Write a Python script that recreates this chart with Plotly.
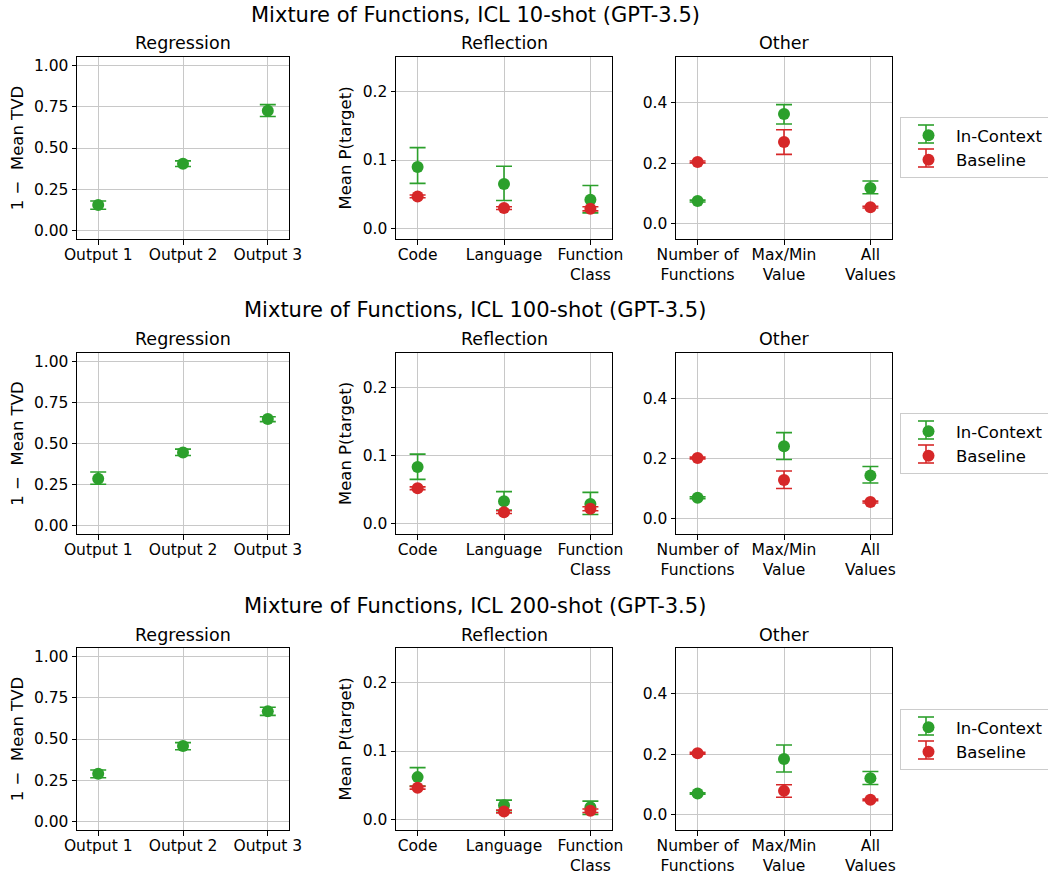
import plotly.graph_objects as go

# ---------------- data ----------------
row_titles = ["Mixture of Functions, ICL 10-shot (GPT-3.5)",
              "Mixture of Functions, ICL 100-shot (GPT-3.5)",
              "Mixture of Functions, ICL 200-shot (GPT-3.5)"]
panel_titles = ["Regression", "Reflection", "Other"]
series_names = ["In-Context", "Baseline"]

reg_cats = ["Output 1", "Output 2", "Output 3"]
refl_cats = ["Code", "Language", "Function<br>Class"]
oth_cats = ["Number of<br>Functions", "Max/Min<br>Value", "All<br>Values"]

# 10-shot
reg_ic_10 = [0.155, 0.405, 0.725]
reg_ic_10_lo = [0.130, 0.388, 0.690]
reg_ic_10_hi = [0.180, 0.422, 0.762]
refl_ic_10 = [0.090, 0.065, 0.042]
refl_ic_10_lo = [0.066, 0.041, 0.023]
refl_ic_10_hi = [0.118, 0.091, 0.063]
refl_bl_10 = [0.047, 0.030, 0.029]
refl_bl_10_lo = [0.045, 0.028, 0.026]
refl_bl_10_hi = [0.049, 0.032, 0.032]
oth_ic_10 = [0.075, 0.362, 0.118]
oth_ic_10_lo = [0.072, 0.329, 0.099]
oth_ic_10_hi = [0.078, 0.393, 0.141]
oth_bl_10 = [0.204, 0.270, 0.055]
oth_bl_10_lo = [0.201, 0.229, 0.052]
oth_bl_10_hi = [0.207, 0.310, 0.058]

# 100-shot
reg_ic_100 = [0.286, 0.446, 0.649]
reg_ic_100_lo = [0.252, 0.427, 0.633]
reg_ic_100_hi = [0.327, 0.466, 0.663]
refl_ic_100 = [0.083, 0.033, 0.029]
refl_ic_100_lo = [0.065, 0.020, 0.0135]
refl_ic_100_hi = [0.102, 0.047, 0.046]
refl_bl_100 = [0.052, 0.017, 0.022]
refl_bl_100_lo = [0.050, 0.015, 0.019]
refl_bl_100_hi = [0.054, 0.019, 0.025]
oth_ic_100 = [0.070, 0.241, 0.144]
oth_ic_100_lo = [0.067, 0.197, 0.119]
oth_ic_100_hi = [0.073, 0.286, 0.174]
oth_bl_100 = [0.202, 0.129, 0.056]
oth_bl_100_lo = [0.199, 0.101, 0.053]
oth_bl_100_hi = [0.205, 0.159, 0.059]

# 200-shot
reg_ic_200 = [0.290, 0.458, 0.667]
reg_ic_200_lo = [0.266, 0.435, 0.643]
reg_ic_200_hi = [0.3125, 0.478, 0.692]
refl_ic_200 = [0.062, 0.021, 0.018]
refl_ic_200_lo = [0.049, 0.013, 0.0077]
refl_ic_200_hi = [0.0758, 0.0285, 0.027]
refl_bl_200 = [0.0464, 0.012, 0.013]
refl_bl_200_lo = [0.0445, 0.010, 0.0105]
refl_bl_200_hi = [0.0485, 0.014, 0.0155]
oth_ic_200 = [0.0705, 0.184, 0.121]
oth_ic_200_lo = [0.068, 0.141, 0.100]
oth_ic_200_hi = [0.073, 0.230, 0.143]
oth_bl_200 = [0.203, 0.079, 0.0496]
oth_bl_200_lo = [0.200, 0.058, 0.047]
oth_bl_200_hi = [0.206, 0.099, 0.052]

reg_ticks = [0.0, 0.25, 0.5, 0.75, 1.0]
refl_ticks = [0.0, 0.1, 0.2]
oth_ticks = [0.0, 0.2, 0.4]

# --------------- styling / layout ---------------
GREEN = "#2ca02c"
RED = "#d62728"
FONT = "DejaVu Sans"
W, H = 1048, 873

x_px = [(77, 289), (396, 612), (676, 892)]
y_px = [(57, 239), (353, 534), (648, 830)]
suptitle_y = [15, 310, 606]
title_y = [43, 339, 635]
legend_left = 900
legend_top = [117, 413, 709]
legend_item_dy = [17, 41]       # item centres below legend top (px)
legend_glyph_dx = 26            # glyph centre right of legend left (px)

rows = [
    (reg_ic_10, reg_ic_10_lo, reg_ic_10_hi,
     refl_ic_10, refl_ic_10_lo, refl_ic_10_hi,
     refl_bl_10, refl_bl_10_lo, refl_bl_10_hi,
     oth_ic_10, oth_ic_10_lo, oth_ic_10_hi,
     oth_bl_10, oth_bl_10_lo, oth_bl_10_hi),
    (reg_ic_100, reg_ic_100_lo, reg_ic_100_hi,
     refl_ic_100, refl_ic_100_lo, refl_ic_100_hi,
     refl_bl_100, refl_bl_100_lo, refl_bl_100_hi,
     oth_ic_100, oth_ic_100_lo, oth_ic_100_hi,
     oth_bl_100, oth_bl_100_lo, oth_bl_100_hi),
    (reg_ic_200, reg_ic_200_lo, reg_ic_200_hi,
     refl_ic_200, refl_ic_200_lo, refl_ic_200_hi,
     refl_bl_200, refl_bl_200_lo, refl_bl_200_hi,
     oth_ic_200, oth_ic_200_lo, oth_ic_200_hi,
     oth_bl_200, oth_bl_200_lo, oth_bl_200_hi),
]

fig = go.Figure()
layout = dict(width=W, height=H,
              margin=dict(l=0, r=0, t=0, b=0, autoexpand=False),
              paper_bgcolor="white", plot_bgcolor="white",
              font=dict(family=FONT, size=15, color="black"),
              annotations=[], shapes=[])


def err(v, lo, hi):
    return dict(type="data", symmetric=False,
                array=[h - a for a, h in zip(v, hi)],
                arrayminus=[a - l for a, l in zip(v, lo)],
                thickness=1.6, width=8)


def add_pts(ax, cats, v, lo, hi, color, name, legend, show):
    e = err(v, lo, hi)
    e["color"] = color
    fig.add_trace(go.Scatter(
        x=cats, y=v, mode="markers", name=name,
        marker=dict(color=color, size=12, line=dict(width=0)),
        error_y=e, xaxis="x" + ax, yaxis="y" + ax,
        legend=legend, showlegend=show))


for r in range(3):
    (reg_ic, reg_lo, reg_hi, rf_ic, rf_ic_lo, rf_ic_hi, rf_bl, rf_bl_lo, rf_bl_hi,
     ot_ic, ot_ic_lo, ot_ic_hi, ot_bl, ot_bl_lo, ot_bl_hi) = rows[r]
    legend = "legend" if r == 0 else "legend%d" % (r + 1)
    cats_list = [reg_cats, refl_cats, oth_cats]
    ticks_list = [reg_ticks, refl_ticks, oth_ticks]
    ranges = [[-0.05, 1.05], [-0.015, 0.25], [-0.05, 0.55]]
    fmts = [".2f", ".1f", ".1f"]
    ytitles = ["1 \u2212  Mean TVD", "Mean P(target)", ""]
    for c in range(3):
        idx = r * 3 + c + 1
        ax = "" if idx == 1 else str(idx)
        x0, x1 = x_px[c]
        y0, y1 = y_px[r]
        common = dict(showline=True, linecolor="black", linewidth=1, mirror=True,
                      ticks="outside", ticklen=4.5, tickcolor="black",
                      showgrid=True, gridcolor="#c8c8c8", gridwidth=1,
                      zeroline=False, automargin=False,
                      tickfont=dict(size=15.5, family=FONT))
        layout["xaxis" + ax] = dict(common, domain=[x0 / W, x1 / W],
                                    anchor="y" + ax, type="category",
                                    range=[-0.25, 2.25], ticklabelstandoff=-3,
                                    categoryorder="array", categoryarray=cats_list[c])
        layout["yaxis" + ax] = dict(common, domain=[1 - y1 / H, 1 - y0 / H],
                                    anchor="x" + ax, range=ranges[c],
                                    tickvals=ticks_list[c], tickformat=fmts[c],
                                    title=dict(text=ytitles[c], font=dict(size=16.5),
                                               standoff=6))
        layout["annotations"].append(dict(
            text=panel_titles[c], x=(x0 + x1) / 2 / W, y=1 - title_y[r] / H,
            xref="paper", yref="paper", showarrow=False,
            font=dict(size=17.5, family=FONT), xanchor="center", yanchor="middle"))

    add_pts("" if r == 0 else str(r * 3 + 1), reg_cats, reg_ic, reg_lo, reg_hi,
            GREEN, series_names[0], legend, False)
    add_pts(str(r * 3 + 2), refl_cats, rf_ic, rf_ic_lo, rf_ic_hi, GREEN, series_names[0], legend, False)
    add_pts(str(r * 3 + 2), refl_cats, rf_bl, rf_bl_lo, rf_bl_hi, RED, series_names[1], legend, False)
    add_pts(str(r * 3 + 3), oth_cats, ot_ic, ot_ic_lo, ot_ic_hi, GREEN, series_names[0], legend, True)
    add_pts(str(r * 3 + 3), oth_cats, ot_bl, ot_bl_lo, ot_bl_hi, RED, series_names[1], legend, True)

    layout["annotations"].append(dict(
        text=row_titles[r], x=475 / W, y=1 - suptitle_y[r] / H,
        xref="paper", yref="paper", showarrow=False,
        font=dict(size=21, family=FONT), xanchor="center", yanchor="middle"))
    layout[legend] = dict(x=legend_left / W, y=1 - legend_top[r] / H,
                          xanchor="left", yanchor="top",
                          bgcolor="rgba(255,255,255,0)", bordercolor="#cccccc",
                          borderwidth=1, font=dict(size=16.5, family=FONT),
                          itemwidth=45, tracegroupgap=0)
    # error-bar glyphs for the legend keys (decoration behind the legend markers)
    for k, col in enumerate([GREEN, RED]):
        cx = legend_left + legend_glyph_dx
        cy = legend_top[r] + legend_item_dy[k]
        for (ax0, ay0, ax1, ay1) in [(cx, cy - 9, cx, cy + 9),
                                     (cx - 8, cy - 9, cx + 8, cy - 9),
                                     (cx - 8, cy + 9, cx + 8, cy + 9)]:
            layout["shapes"].append(dict(
                type="line", xref="paper", yref="paper",
                x0=ax0 / W, x1=ax1 / W, y0=1 - ay0 / H, y1=1 - ay1 / H,
                line=dict(color=col, width=1.6), layer="above"))

fig.update_layout(**layout)
fig.write_html("out.html", config={"displayModeBar": False},
               post_script="document.body.style.margin='0px';document.body.style.overflow='hidden';")
